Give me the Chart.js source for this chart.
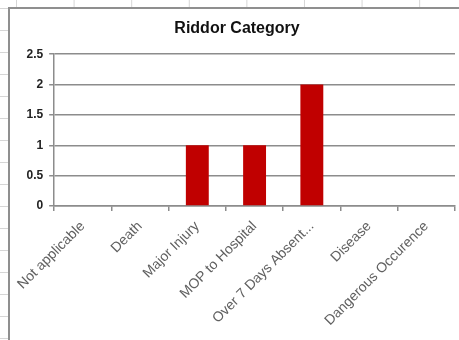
<!DOCTYPE html>
<html>
<head>
<meta charset="utf-8">
<script src="https://cdn.jsdelivr.net/npm/chart.js@4.4.0/dist/chart.umd.min.js"></script>
<style>
  html, body { margin: 0; padding: 0; }
  body {
    width: 459px; height: 340px; overflow: hidden; position: relative; background-color: #fff;
    background-image: linear-gradient(to bottom, #d6d6d6 1px, transparent 1px),
                      linear-gradient(to right, #d6d6d6 1px, transparent 1px);
    background-size: 100% 22px, 57.6px 100%;
    background-position: 0 8px, 16px 0;
  }
  #box { position: absolute; left: 8px; top: 7px; width: 470px; height: 360px;
         border: 2px solid #8f8f8f; background: #fff; }
  #riddorChart { position: absolute; left: 0; top: 0; }
</style>
</head>
<body>
<div id="box"><canvas id="riddorChart" width="449" height="331"></canvas></div>
<script>
const categories = ['Not applicable', 'Death', 'Major Injury', 'MOP to Hospital',
  'Over 7 Days Absent...', 'Disease', 'Dangerous Occurence'];
const counts = [0, 0, 1, 1, 2, 0, 0];
const yTicks = [0, 0.5, 1, 1.5, 2, 2.5];

let riddorChart;

drawChart();

function drawChart() {
  const ctx = document.getElementById('riddorChart');
  riddorChart = new Chart(ctx, {
    type: 'bar',
    data: {
      labels: categories,
      datasets: [{
        label: 'Riddor Category',
        data: counts,
        backgroundColor: '#c00000',
        borderWidth: 0,
        barPercentage: 0.4,
        categoryPercentage: 1
      }]
    },
    options: {
      responsive: false,
      animation: false,
      layout: {
        padding: { left: 9, right: 4, top: 4, bottom: 4 }
      },
      plugins: {
        legend: { display: false },
        tooltip: { enabled: false },
        title: {
          display: true,
          text: 'Riddor Category',
          color: '#111',
          font: { family: 'Liberation Sans', size: 16, weight: 'bold' },
          padding: { top: 6, bottom: 16 }
        }
      },
      scales: {
        x: {
          offset: true,
          grid: {
            offset: true,
            drawOnChartArea: false,
            drawTicks: true,
            tickLength: 5,
            tickColor: '#8c8c8c',
            lineWidth: 1.5
          },
          border: { color: '#8c8c8c', width: 1.5 },
          ticks: {
            autoSkip: false,
            minRotation: 45,
            maxRotation: 45,
            padding: 7,
            color: '#606060',
            font: { family: 'Liberation Sans', size: 14 }
          }
        },
        y: {
          min: 0,
          max: 2.5,
          afterBuildTicks: function (axis) {
            axis.ticks = yTicks.map(v => ({ value: v }));
          },
          grid: {
            color: '#8c8c8c',
            lineWidth: 1.5,
            tickLength: 5
          },
          border: { color: '#8c8c8c', width: 1.5 },
          ticks: {
            padding: 6,
            color: '#222',
            font: { family: 'Liberation Sans', size: 12, weight: 'bold' },
            callback: function (value) {
              return String(value);
            }
          }
        }
      }
    }
  });
}
</script>
</body>
</html>
